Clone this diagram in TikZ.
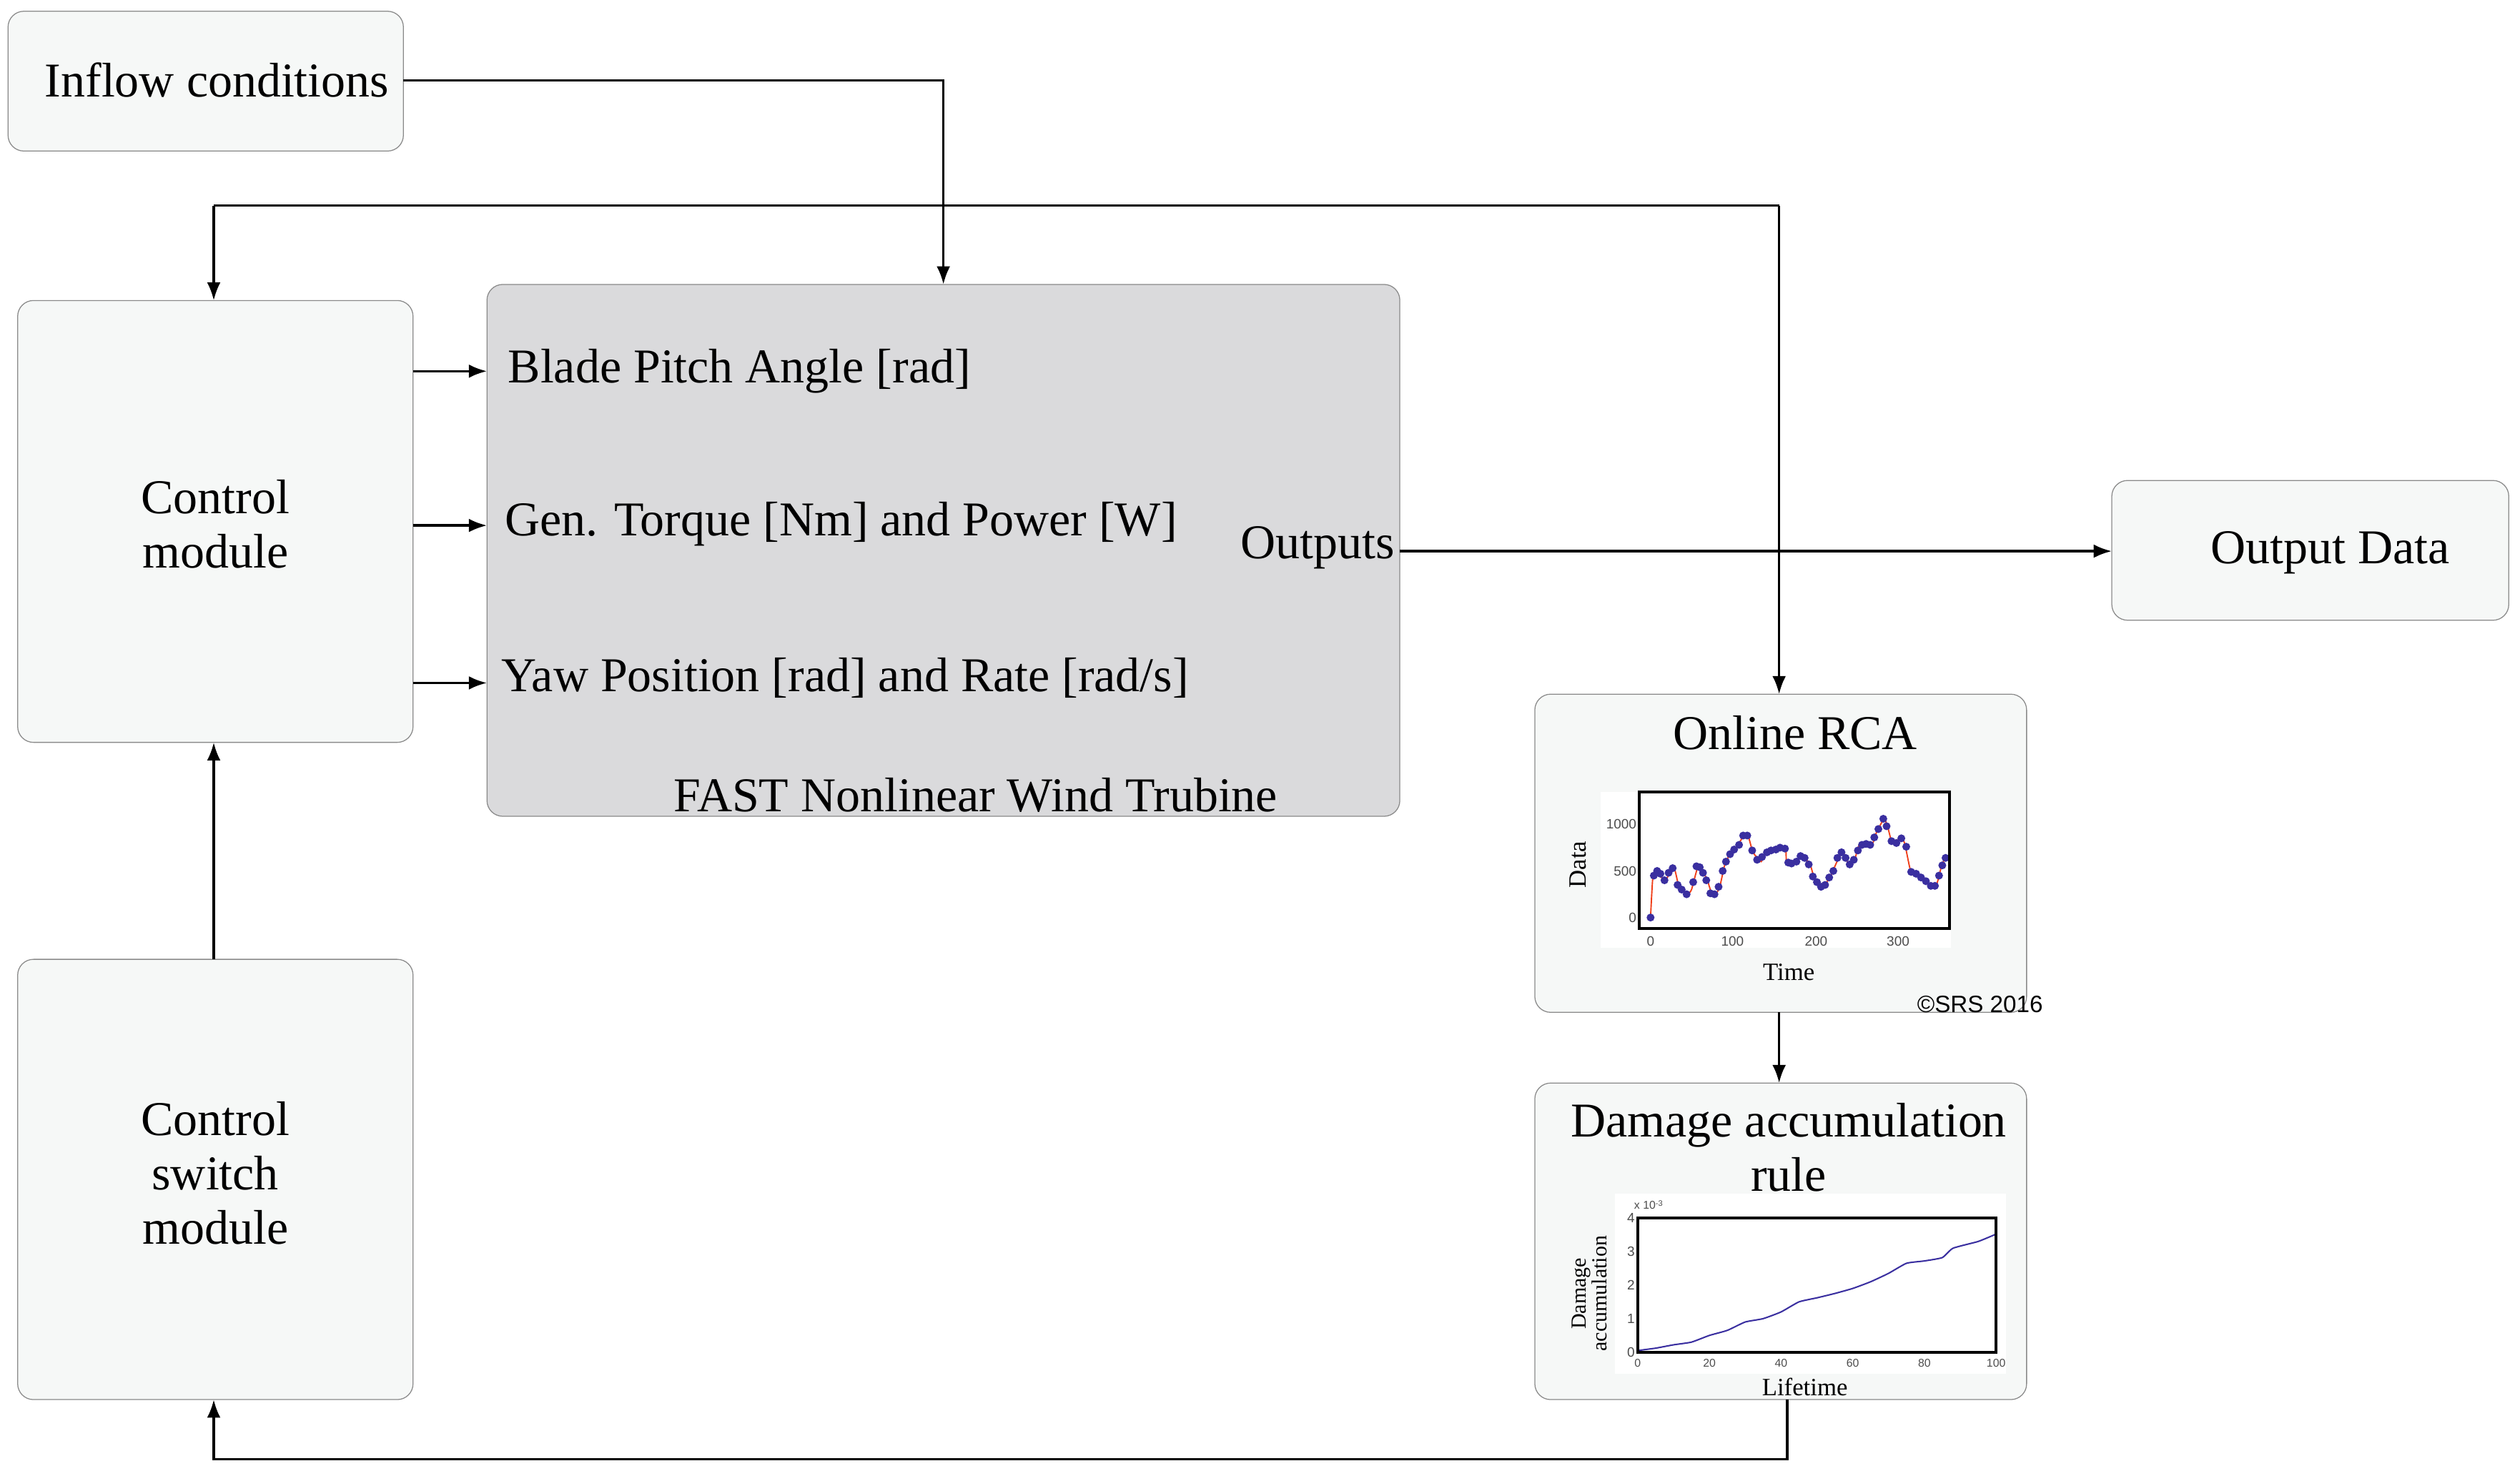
\documentclass[tikz,border=0pt]{standalone}
\usepackage{fontspec}
\setmainfont{Liberation Serif}
\newfontfamily\sansf{Liberation Sans}
\usetikzlibrary{arrows.meta}
\definecolor{boxfill}{HTML}{F6F8F7}
\definecolor{fastfill}{HTML}{DADADC}
\definecolor{boxline}{HTML}{8A8A8A}
\definecolor{datablue}{HTML}{3A2FA0}
\definecolor{datared}{HTML}{F0401A}
\begin{document}
\begin{tikzpicture}[x=0.05cm,y=-0.05cm,
  box/.style={draw=boxline,line width=0.8pt,fill=boxfill,rounded corners=14pt},
  lbl/.style={font=\fontsize{43}{48}\selectfont,align=center,inner sep=0pt},
  conn/.style={line width=2.2pt,-{Latex[length=16pt,width=12pt]}},
  line/.style={line width=2.2pt},
  tick/.style={font=\sansf\fontsize{12}{14}\selectfont,text=black!70,inner sep=1pt},
  axl/.style={font=\fontsize{22}{24}\selectfont,inner sep=0pt,align=center}]
\useasboundingbox (0,0) rectangle (1568,915);
% boxes
\draw[box] (5,7) rectangle (251,94);
\node[lbl] (inflow) at (135,50) {Inflow conditions};
\coordinate (inR) at (251,50);
\draw[box] (11,187) rectangle (257,462);
\node[lbl] (cm) at (134,326) {Control\\module};
\draw[box] (11,597) rectangle (257,871);
\node[lbl] (csm) at (134,730) {Control\\switch\\module};
\draw[box,fill=fastfill] (303,177) rectangle (871,508);
\node[lbl,anchor=west] (t1) at (316,231) {Blade Pitch Angle [rad]};
\node[lbl,anchor=west] (t2) at (314,326) {Gen. Torque [Nm] and Power [W]};
\node[lbl,anchor=west] (t3) at (312,422) {Yaw Position [rad] and Rate [rad/s]};
\node[lbl,anchor=east] (outs) at (868,341) {Outputs};
\node[lbl] (fast) at (607,495) {FAST Nonlinear Wind Trubine};
\draw[box] (1314,299) rectangle (1561,386);
\node[lbl] (od) at (1450,344) {Output Data};
\draw[box] (955,432) rectangle (1261,630);
\node[lbl] (rca) at (1117,456) {Online RCA};
\draw[box] (955,674) rectangle (1261,871);
\node[lbl] (dam) at (1113,714) {Damage accumulation\\rule};
\node[font=\sansf\fontsize{21}{24}\selectfont,inner sep=0pt] (srs) at (1232,625) {\textcopyright SRS 2016};
% coordinates
\coordinate (fastTop) at (587,177);
\coordinate (inC) at (587,50);
\coordinate (loopL) at (133,128);
\coordinate (loopR) at (1107,128);
\coordinate (cmTop) at (133,187);
\coordinate (rcaTop) at (1107,432);
\coordinate (rcaBot) at (1107,630);
\coordinate (damTop) at (1107,674);
\coordinate (damBot) at (1112,871);
\coordinate (botR) at (1112,908);
\coordinate (botL) at (133,908);
\coordinate (csmBot) at (133,871);
\coordinate (csmTop) at (133,597);
\coordinate (cmBot) at (133,462);
% connectors
\draw[conn] (inR) -- (inC) -- (fastTop);
\draw[line] (loopL) -- (loopR);
\draw[conn] (loopL) -- (cmTop);
\draw[conn] (loopR) -- (rcaTop);
\draw[conn] (257,231) coordinate (a1) -- (303,231) coordinate (b1);
\draw[conn] (257,327) coordinate (a2) -- (303,327) coordinate (b2);
\draw[conn] (257,425) coordinate (a3) -- (303,425) coordinate (b3);
\draw[conn] (871,343) coordinate (oL) -- (1314,343) coordinate (oR);
\draw[conn] (csmTop) -- (cmBot);
\draw[conn] (rcaBot) -- (damTop);
\draw[conn] (damBot) -- (botR) -- (botL) -- (csmBot);
% RCA plot
\fill[white] (996,493) rectangle (1214,590);
\begin{scope}[shift={(1027,571)},x=0.0255cm,y=0.0029cm]
  \draw[datared,line width=1.2pt] plot[smooth,tension=0.3] coordinates {(0,0)(3,450)(10,500)(15,400)(20,420)(25,530)(30,500)(35,320)(45,250)(50,300)(58,550)(65,480)(70,380)(75,250)(80,250)(85,350)(90,550)(95,650)(105,750)(115,900)(120,850)(125,700)(135,600)(140,700)(150,720)(160,750)(165,750)(166,600)(175,580)(180,620)(185,680)(195,560)(200,420)(210,320)(215,380)(220,450)(230,650)(235,700)(240,600)(245,560)(250,650)(255,780)(270,780)(275,900)(285,1060)(290,950)(295,800)(305,850)(310,800)(318,480)(330,430)(345,330)(350,380)(355,550)(360,650)};
  \foreach \x/\y in {0/0,4/450,8/500,12/470,17/400,22/480,27/530,33/350,38/300,44/250,52/380,56/550,60/540,64/480,68/400,73/260,78/250,83/330,88/500,92/600,97/680,102/730,108/780,113/880,118/880,124/720,130/620,136/650,142/700,147/720,153/730,158/750,164/740,168/590,172/580,178/600,183/660,188/640,193/570,198/440,203/380,208/330,213/350,218/430,223/500,228/640,233/700,238/640,243/570,248/620,253/720,258/780,263/790,268/780,273/860,278/950,284/1060,288/980,294/820,300/800,306/850,312/760,318/490,324/470,330/430,336/390,342/340,347/340,352/450,356/560,360/640}
    \fill[datablue] (\x,\y) circle (3.5pt);
\end{scope}
\draw[line width=2.5pt] (1020,493) rectangle (1213,578);
\node[tick] at (1027,586) {0};
\node[tick] at (1078,586) {100};
\node[tick] at (1130,586) {200};
\node[tick] at (1181,586) {300};
\node[tick,anchor=east] at (1019,513) {1000};
\node[tick,anchor=east] at (1019,542) {500};
\node[tick,anchor=east] at (1019,571) {0};
\node[axl,rotate=90] at (982,538) {Data};
\node[axl] at (1113,605) {Time};
% Damage plot
\fill[white] (1005,743) rectangle (1248,855);
\begin{scope}[shift={(1019,841.5)},x=0.1115cm,y=1.044cm]
  \draw[datablue,line width=1.3pt] plot[smooth,tension=0.3] coordinates {(0,0.05)(5,0.12)(10,0.22)(15,0.3)(20,0.5)(25,0.65)(30,0.9)(35,1.0)(40,1.2)(45,1.5)(50,1.62)(55,1.75)(60,1.9)(65,2.1)(70,2.35)(75,2.65)(80,2.72)(85,2.82)(88,3.1)(95,3.3)(100,3.52)};
\end{scope}
\draw[line width=2.5pt] (1019,758) rectangle (1242,841.5);
\foreach \v/\yy in {0/841.5,1/820.6,2/799.8,3/778.9,4/758} \node[tick,anchor=east] at (1018,\yy) {\v};
\foreach \v/\xx in {0/1019,20/1063.6,40/1108.2,60/1152.8,80/1197.4,100/1242} \node[tick,font=\sansf\fontsize{10}{12}\selectfont] at (\xx,848.5) {\v};
\node[tick,anchor=west,font=\sansf\fontsize{10}{12}\selectfont] at (1016,750) {x 10\raisebox{0.5ex}{\scriptsize -3}};
\node[axl,rotate=90,font=\fontsize{19}{17}\selectfont] at (989,805) {Damage\\accumulation};
\node[axl] at (1123,863) {Lifetime};
\end{tikzpicture}
\end{document}
